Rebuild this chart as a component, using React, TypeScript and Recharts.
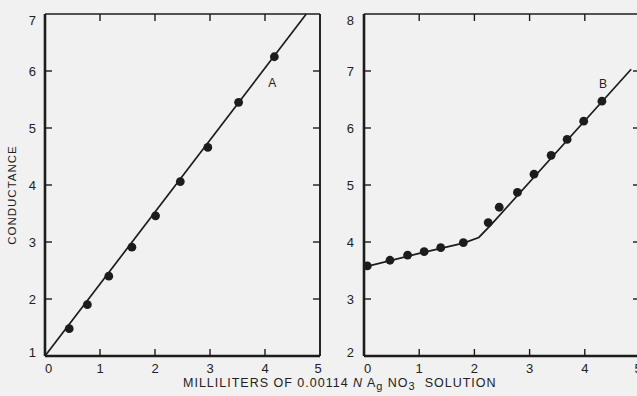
import { ScatterChart, Scatter, XAxis, YAxis, ReferenceDot } from "recharts";

// x axis ticks, shared by both panels
const xTicks = [0, 1, 2, 3, 4, 5];
const aYTicks = [1, 2, 3, 4, 5, 6, 7];
const bYTicks = [2, 3, 4, 5, 6, 7, 8];

// curve A
const aPoints = [
  { x: 0.44, y: 1.48 },
  { x: 0.77, y: 1.9 },
  { x: 1.16, y: 2.4 },
  { x: 1.58, y: 2.91 },
  { x: 2.01, y: 3.46 },
  { x: 2.46, y: 4.06 },
  { x: 2.96, y: 4.66 },
  { x: 3.52, y: 5.45 },
  { x: 4.17, y: 6.25 },
];
const aLine = [
  { x: 0, y: 1 },
  { x: 4.75, y: 7 },
];

// curve B
const bPoints = [
  { x: 0.06, y: 3.58 },
  { x: 0.47, y: 3.68 },
  { x: 0.79, y: 3.77 },
  { x: 1.09, y: 3.83 },
  { x: 1.39, y: 3.9 },
  { x: 1.8, y: 3.99 },
  { x: 2.25, y: 4.34 },
  { x: 2.45, y: 4.61 },
  { x: 2.78, y: 4.87 },
  { x: 3.08, y: 5.19 },
  { x: 3.39, y: 5.52 },
  { x: 3.68, y: 5.8 },
  { x: 3.98, y: 6.12 },
  { x: 4.31, y: 6.47 },
];
const bLine = [
  { x: 0, y: 3.56 },
  { x: 1.0, y: 3.8 },
  { x: 1.8, y: 3.98 },
  { x: 2.08, y: 4.08 },
  { x: 2.3, y: 4.3 },
  { x: 4.84, y: 7.03 },
];

const INK = "#1c1c1c";
const FONT = "'Liberation Sans', Arial, sans-serif";

const Dot = (props: any) => <circle cx={props.cx} cy={props.cy} r={4.4} fill={INK} />;
const NoShape = () => <g />;

const BottomTick = ({ x, y, payload }: any) => {
  const v = payload.value;
  const shift = v === 0 ? 3.5 : v === 5 ? -2 : 0;
  return (
    <g>
      {v > 0 && v < 5 && <line x1={x} x2={x} y1={y} y2={y - 7} stroke={INK} strokeWidth={1.4} />}
      <text x={x + shift} y={y + 17} textAnchor="middle" fontSize={13} fontFamily={FONT} fill="#222">
        {v}
      </text>
    </g>
  );
};

const TopTick = ({ x, y, payload }: any) => {
  const v = payload.value;
  if (v <= 0 || v >= 5) return <g />;
  return <line x1={x} x2={x} y1={y} y2={y + 7} stroke={INK} strokeWidth={1.4} />;
};

const makeLeftTick = (min: number, max: number, gap: number) => ({ x, y, payload }: any) => {
  const v = payload.value;
  const dy = v === max ? 6 : v === min ? -4 : 0;
  return (
    <g>
      {v > min && v < max && <line x1={x} x2={x + 7} y1={y} y2={y} stroke={INK} strokeWidth={1.4} />}
      <text x={x - gap} y={y + 4.6 + dy} textAnchor="end" fontSize={13} fontFamily={FONT} fill="#222">
        {v}
      </text>
    </g>
  );
};

const makeRightTick = (min: number, max: number) => ({ x, y, payload }: any) => {
  const v = payload.value;
  if (v <= min || v >= max) return <g />;
  return <line x1={x} x2={x - 7} y1={y} y2={y} stroke={INK} strokeWidth={1.4} />;
};

const ALeftTick = makeLeftTick(1, 7, 9);
const ARightTick = makeRightTick(1, 7);
const BLeftTick = makeLeftTick(2, 8, 10);
const BRightTick = makeRightTick(2, 8);

interface PanelProps {
  points: { x: number; y: number }[];
  line: { x: number; y: number }[];
  yTicks: number[];
  leftTick: any;
  rightTick: any;
  marginLeft: number;
  width: number;
  label: string;
  labelAt: { x: number; y: number };
}

const Panel = ({ points, line, yTicks, leftTick, rightTick, marginLeft, width, label, labelAt }: PanelProps) => {
  const domainY: [number, number] = [yTicks[0], yTicks[yTicks.length - 1]];
  return (
    <ScatterChart width={width} height={396} margin={{ top: 13, right: 9, bottom: 39, left: marginLeft - 1 }}>
      <XAxis
        type="number"
        dataKey="x"
        domain={[0, 5]}
        ticks={xTicks}
        interval={0}
        height={1}
        tickSize={0}
        tickMargin={0}
        tickLine={false}
        tick={<BottomTick />}
        axisLine={{ stroke: INK, strokeWidth: 2.6 }}
      />
      <XAxis
        xAxisId="top"
        orientation="top"
        type="number"
        dataKey="x"
        domain={[0, 5]}
        ticks={xTicks}
        interval={0}
        height={1}
        tickSize={0}
        tickMargin={0}
        tickLine={false}
        tick={<TopTick />}
        axisLine={{ stroke: INK, strokeWidth: 1.7 }}
      />
      <YAxis
        type="number"
        dataKey="y"
        domain={domainY}
        ticks={yTicks}
        interval={0}
        width={1}
        tickSize={0}
        tickMargin={0}
        tickLine={false}
        tick={leftTick}
        axisLine={{ stroke: INK, strokeWidth: 2.6 }}
      />
      <YAxis
        yAxisId="right"
        orientation="right"
        type="number"
        dataKey="y"
        domain={domainY}
        ticks={yTicks}
        interval={0}
        width={1}
        tickSize={0}
        tickMargin={0}
        tickLine={false}
        tick={rightTick}
        axisLine={{ stroke: INK, strokeWidth: 1.9 }}
      />
      <Scatter xAxisId="top" yAxisId="right" data={points} shape={NoShape} isAnimationActive={false} />
      <Scatter
        data={line}
        line={{ stroke: INK, strokeWidth: 1.7 }}
        lineType="joint"
        shape={NoShape}
        isAnimationActive={false}
      />
      <Scatter data={points} shape={Dot} isAnimationActive={false} />
      <ReferenceDot
        x={labelAt.x}
        y={labelAt.y}
        r={0}
        fill="none"
        stroke="none"
        label={{ value: label, position: "center", fontSize: 12, fontFamily: FONT, fill: "#222" }}
      />
    </ScatterChart>
  );
};

export default function App() {
  return (
    <div
      style={{
        position: "fixed",
        left: 0,
        top: 0,
        width: 637,
        height: 396,
        overflow: "hidden",
        background: "#f1f1f1",
        fontFamily: FONT,
      }}
    >
      <div style={{ position: "absolute", left: 0, top: 0 }}>
        <Panel
          points={aPoints}
          line={aLine}
          yTicks={aYTicks}
          leftTick={<ALeftTick />}
          rightTick={<ARightTick />}
          marginLeft={45}
          width={330}
          label="A"
          labelAt={{ x: 4.13, y: 5.8 }}
        />
      </div>
      <div style={{ position: "absolute", left: 330, top: 0 }}>
        <Panel
          points={bPoints}
          line={bLine}
          yTicks={bYTicks}
          leftTick={<BLeftTick />}
          rightTick={<BRightTick />}
          marginLeft={34}
          width={320}
          label="B"
          labelAt={{ x: 4.33, y: 6.78 }}
        />
      </div>
      <div
        style={{
          position: "absolute",
          left: 12,
          top: 195,
          transform: "translate(-50%, -50%) rotate(-90deg)",
          fontSize: 11.5,
          letterSpacing: 1,
          color: "#222",
          whiteSpace: "nowrap",
        }}
      >
        CONDUCTANCE
      </div>
      <div
        style={{
          position: "absolute",
          left: 183,
          top: 376,
          fontSize: 12.5,
          letterSpacing: 1,
          color: "#222",
          whiteSpace: "nowrap",
          lineHeight: "14px",
        }}
      >
        MILLILITERS OF 0.00114 <i>N</i> A
        <span style={{ position: "relative", top: 3, fontSize: 11 }}>g</span> NO
        <span style={{ position: "relative", top: 3, fontSize: 11 }}>3</span>&nbsp; SOLUTION
      </div>
    </div>
  );
}
